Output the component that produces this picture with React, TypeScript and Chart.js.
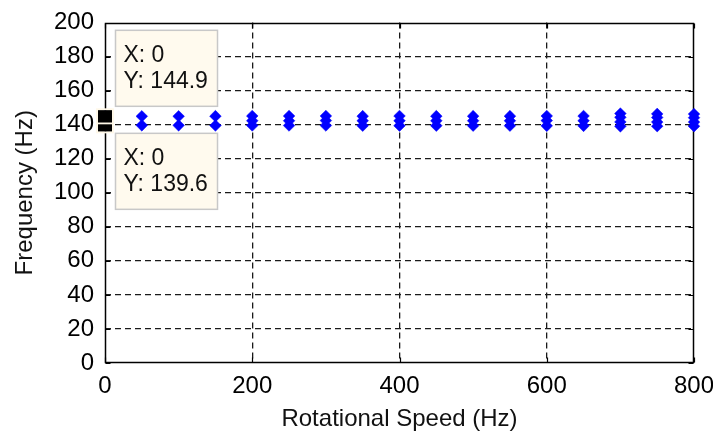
import React, { useEffect, useRef } from "react";
import { Chart, registerables } from "chart.js";

Chart.register(...registerables);

// ---- data ----
const speeds = [0, 50, 100, 150, 200, 250, 300, 350, 400, 450, 500, 550, 600, 650, 700, 750, 800];
const modeA = [139.6, 139.6, 139.6, 139.5, 139.5, 139.5, 139.5, 139.4, 139.4, 139.4, 139.4, 139.4, 139.3, 139.3, 139.0, 139.1, 139.1];
const modeB = [144.9, 144.9, 144.9, 145.0, 145.1, 145.1, 145.1, 145.0, 145.1, 145.0, 145.0, 145.0, 145.1, 145.1, 146.5, 146.3, 146.2];
const modeC: (number | null)[] = [null, null, null, null, 142.3, 142.3, 142.4, 142.3, 142.3, 142.3, 142.3, 142.3, 142.4, 142.3, 144.3, 144.2, 144.1];
const modeD: (number | null)[] = [null, null, null, null, null, null, null, null, null, null, null, null, null, null, 141.6, 141.5, 141.5];

const xTicks = [0, 200, 400, 600, 800];
const yTicks = [0, 20, 40, 60, 80, 100, 120, 140, 160, 180, 200];
const xTitle = "Rotational Speed (Hz)";
const yTitle = "Frequency (Hz)";

const tipX = speeds[0];
const tipHigh = modeB[0];
const tipLow = modeA[0];

const FONT = "'Liberation Sans', Arial, sans-serif";

function toPoints(vals: (number | null)[]) {
  const pts: { x: number; y: number }[] = [];
  vals.forEach((v, i) => {
    if (v !== null && v !== undefined) pts.push({ x: speeds[i], y: v });
  });
  return pts;
}

const matlabPlugin = {
  id: "matlabLook",
  beforeDraw(chart: any) {
    const { ctx, width, height } = chart;
    ctx.save();
    ctx.fillStyle = "#ffffff";
    ctx.fillRect(0, 0, width, height);
    ctx.restore();
  },
  beforeDatasetsDraw(chart: any) {
    const { ctx, chartArea } = chart;
    const xs = chart.scales.x;
    const ys = chart.scales.y;
    const l = Math.round(chartArea.left) + 0.5;
    const r = Math.round(chartArea.right) - 0.5;
    const t = Math.round(chartArea.top) + 0.5;
    const b = Math.round(chartArea.bottom) - 0.5;
    ctx.save();
    ctx.strokeStyle = "#000";
    ctx.lineWidth = 1.5;
    ctx.setLineDash([]);
    ctx.strokeRect(l, t, r - l, b - t);
    const tl = 5;
    ctx.lineWidth = 1.2;
    ctx.beginPath();
    ys.ticks.forEach((tk: any) => {
      const y = Math.round(ys.getPixelForValue(tk.value)) + 0.5;
      ctx.moveTo(l, y);
      ctx.lineTo(l + tl, y);
      ctx.moveTo(r, y);
      ctx.lineTo(r - tl, y);
    });
    xs.ticks.forEach((tk: any) => {
      const x = Math.round(xs.getPixelForValue(tk.value)) + 0.5;
      ctx.moveTo(x, b);
      ctx.lineTo(x, b - tl);
      ctx.moveTo(x, t);
      ctx.lineTo(x, t + tl);
    });
    ctx.stroke();
    ctx.restore();
  },
  afterDraw(chart: any) {
    const { ctx } = chart;
    const xs = chart.scales.x;
    const ys = chart.scales.y;
    const px = xs.getPixelForValue(tipX);
    const pyH = ys.getPixelForValue(tipHigh);
    const pyL = ys.getPixelForValue(tipLow);
    ctx.save();
    const drawMarker = (y: number) => {
      ctx.fillStyle = "#000";
      ctx.strokeStyle = "#fff8e8";
      ctx.lineWidth = 2;
      ctx.fillRect(px - 7, y - 6, 14, 12);
      ctx.strokeRect(px - 8, y - 7, 16, 14);
      ctx.fillRect(px - 7, y - 6, 14, 12);
    };
    drawMarker(pyL);
    drawMarker(pyH);

    const drawBox = (top: number, lines: string[]) => {
      const left = px + 10.5;
      const w = 102;
      const h = 76;
      ctx.fillStyle = "#fffaee";
      ctx.fillRect(left, top, w, h);
      ctx.strokeStyle = "#c8c8c8";
      ctx.lineWidth = 1.5;
      ctx.strokeRect(left, top, w, h);
      ctx.fillStyle = "#111";
      ctx.font = `23px ${FONT}`;
      ctx.textAlign = "left";
      ctx.textBaseline = "middle";
      ctx.fillText(lines[0], left + 8, top + 25);
      ctx.fillText(lines[1], left + 8, top + 51);
    };
    drawBox(pyH - 86, [`X: ${tipX}`, `Y: ${tipHigh.toFixed(1)}`]);
    drawBox(pyL + 8, [`X: ${tipX}`, `Y: ${tipLow.toFixed(1)}`]);
    ctx.restore();
  },
};

const pointStyle = {
  showLine: false,
  pointStyle: "rectRot" as const,
  pointRadius: 5.8,
  pointBackgroundColor: "#0000ff",
  pointBorderColor: "#0000ff",
  pointBorderWidth: 0.5,
  clip: false as const,
};

export default function App() {
  const ref = useRef<HTMLCanvasElement | null>(null);

  useEffect(() => {
    if (!ref.current) return;
    const gridColor = (edgeA: number, edgeB: number) => (c: any) =>
      c.tick && (c.tick.value === edgeA || c.tick.value === edgeB) ? "rgba(0,0,0,0)" : "#1a1a1a";
    const chart = new Chart(ref.current, {
      type: "scatter",
      data: {
        datasets: [
          { label: "A", data: toPoints(modeA), ...pointStyle },
          { label: "B", data: toPoints(modeB), ...pointStyle },
          { label: "C", data: toPoints(modeC), ...pointStyle },
          { label: "D", data: toPoints(modeD), ...pointStyle },
        ],
      },
      options: {
        animation: false,
        responsive: false,
        layout: { padding: { top: 22.5, right: 19, bottom: 0, left: 0 } },
        plugins: { legend: { display: false }, tooltip: { enabled: false } },
        scales: {
          x: {
            type: "linear",
            min: 0,
            max: 800,
            afterBuildTicks: (s: any) => {
              s.ticks = xTicks.map((v) => ({ value: v }));
            },
            afterFit: (s: any) => {
              s.height = 74;
              s.paddingLeft = 0;
              s.paddingRight = 0;
            },
            grid: { color: gridColor(0, 800), lineWidth: 1.3, drawTicks: false },
            border: { display: false, dash: [6, 4] },
            ticks: {
              color: "#000",
              font: { family: FONT, size: 24 },
              padding: 9,
              maxRotation: 0,
              autoSkip: false,
              callback: (v: any) => String(v),
            },
            title: {
              display: true,
              text: xTitle,
              color: "#111",
              font: { family: FONT, size: 24 },
              padding: { top: 4, bottom: 3 },
            },
          },
          y: {
            type: "linear",
            min: 0,
            max: 200,
            afterBuildTicks: (s: any) => {
              s.ticks = yTicks.map((v) => ({ value: v }));
            },
            afterFit: (s: any) => {
              s.width = 105;
              s.paddingTop = 0;
              s.paddingBottom = 0;
            },
            grid: { color: gridColor(0, 200), lineWidth: 1.3, drawTicks: false },
            border: { display: false, dash: [6, 4] },
            ticks: {
              color: "#000",
              font: { family: FONT, size: 24 },
              padding: 11,
              autoSkip: false,
              callback: (v: any) => String(v),
            },
            title: {
              display: true,
              text: yTitle,
              color: "#111",
              font: { family: FONT, size: 24 },
              padding: { top: 11, bottom: 4 },
            },
          },
        },
      },
      plugins: [matlabPlugin],
    });
    return () => chart.destroy();
  }, []);

  return (
    <div style={{ position: "absolute", left: 0, top: 0, width: 713, height: 437 }}>
      <canvas ref={ref} width={713} height={437} style={{ display: "block", width: 713, height: 437 }} />
    </div>
  );
}
